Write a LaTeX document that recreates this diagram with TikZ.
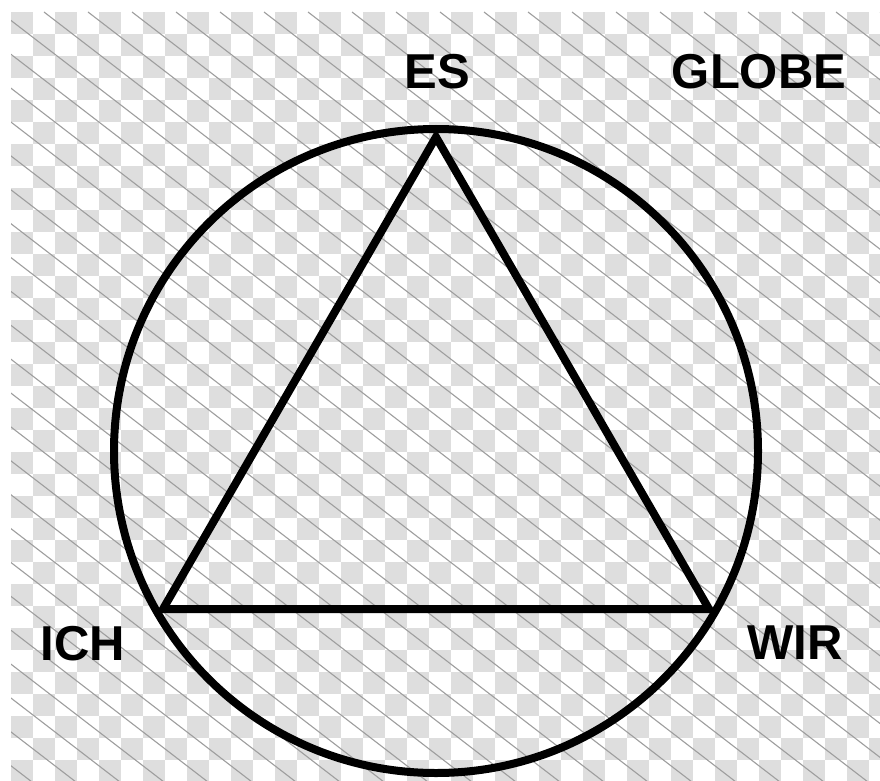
\documentclass[tikz,border=0pt]{standalone}
\usepackage{fontspec}
\setmainfont{Liberation Sans}
\usetikzlibrary{positioning}

\begin{document}
\begin{tikzpicture}[
    x=1pt, y=-1pt,
    edge/.style={line width=8pt, black, line join=miter},
    lbl/.style={font=\bfseries\fontsize{49}{56}\selectfont, inner sep=0pt},
    tile/.style={fill=black!13},
    hatch/.style={draw=black!38, line width=1.1pt}
]
\useasboundingbox (0,0) rectangle (880,781);
\fill[white] (0,0) rectangle (880,781);

% background checker and hatching
\begin{scope}
\clip (11,12) rectangle (880,781);
\foreach \i in {0,...,39} {
  \foreach \j in {0,...,35} {
    \pgfmathtruncatemacro\k{mod(\i+\j,2)}
    \ifnum\k=0
      \fill[tile] (11+22*\i,12+22*\j) rectangle ++(22,22);
    \fi
  }
}
\foreach \d in {-1100,-1056,...,880}
  \draw[hatch] (\d,12) -- ++(1000,770);
\end{scope}

% globe and triangle
\coordinate (es)  at (436,137);
\coordinate (ich) at (163,609);
\coordinate (wir) at (709,609);
\draw[edge] (436,451) circle[radius=322];
\draw[edge] (es) -- (wir) -- (ich) -- cycle;

\node[lbl] (eslbl)    at (437,72)  {ES};
\node[lbl] (globelbl) at (759,72)  {GLOBE};
\node[lbl] (ichlbl)   at (83,644)  {ICH};
\node[lbl] (wirlbl)   at (795,643) {WIR};
\end{tikzpicture}
\end{document}
